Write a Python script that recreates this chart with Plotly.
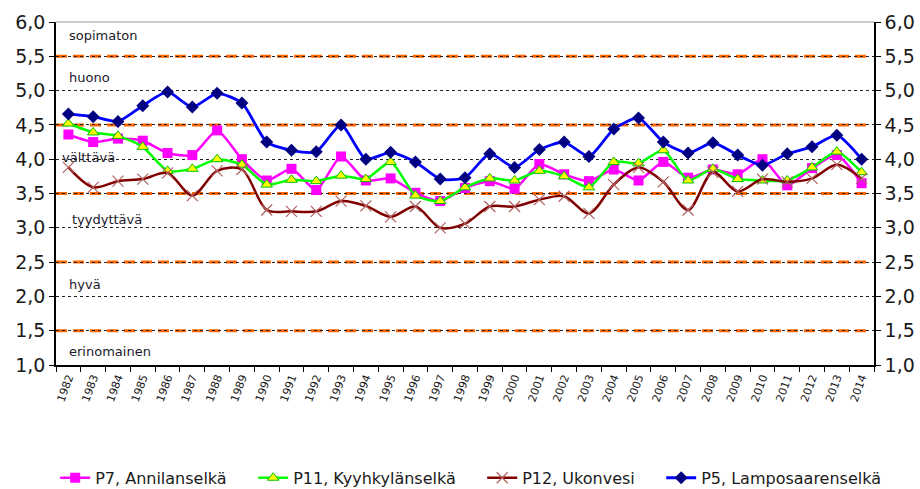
import plotly.graph_objects as go

years = [str(y) for y in range(1982, 2015)]

p7_annilanselka = [4.36, 4.25, 4.30, 4.27, 4.09, 4.06, 4.42, 4.00, 3.69, 3.86, 3.55, 4.04, 3.69, 3.72, 3.51, 3.39,
                   3.58, 3.68, 3.57, 3.93, 3.78, 3.68, 3.85, 3.69, 3.96, 3.73, 3.85, 3.78, 4.00, 3.62, 3.87, 4.06, 3.65]
p11_kyyhkylanselka = [4.52, 4.39, 4.34, 4.18, 3.83, 3.86, 4.00, 3.92, 3.63, 3.70, 3.68, 3.76, 3.71, 3.96, 3.47, 3.39,
                      3.59, 3.72, 3.69, 3.83, 3.75, 3.59, 3.96, 3.94, 4.13, 3.69, 3.86, 3.71, 3.69, 3.69, 3.88, 4.11, 3.81]
p12_ukonvesi = [3.88, 3.59, 3.68, 3.71, 3.80, 3.47, 3.83, 3.85, 3.26, 3.24, 3.24, 3.39, 3.32, 3.16, 3.31, 3.00,
                3.06, 3.31, 3.31, 3.41, 3.46, 3.21, 3.63, 3.88, 3.67, 3.26, 3.81, 3.53, 3.71, 3.67, 3.72, 3.92, 3.72]
p5_lamposaarenselka = [4.66, 4.62, 4.55, 4.78, 4.98, 4.76, 4.96, 4.82, 4.25, 4.13, 4.11, 4.50, 4.00, 4.10, 3.96, 3.71,
                       3.73, 4.08, 3.88, 4.14, 4.25, 4.04, 4.44, 4.60, 4.25, 4.09, 4.24, 4.06, 3.91, 4.08, 4.18, 4.35, 4.00]

class_labels = ["sopimaton", "huono", "välttävä", "tyydyttävä", "hyvä", "erinomainen"]
class_label_y = [5.81, 5.19, 4.02, 3.12, 2.18, 1.20]
class_label_x = [0.013, 0.013, 0.005, 0.017, 0.013, 0.013]
class_limits = [1.5, 2.5, 3.5, 4.5, 5.5]
y_ticks = [1.0, 1.5, 2.0, 2.5, 3.0, 3.5, 4.0, 4.5, 5.0, 5.5, 6.0]

FONT = "DejaVu Sans, Liberation Sans, Arial, sans-serif"
TXT = "#1A1A1A"

fig = go.Figure()

fig.add_trace(go.Scatter(
    x=years, y=p7_annilanselka, name="P7, Annilanselkä", mode="lines+markers", legendwidth=153,
    line=dict(color="#FF00FF", width=2.5, shape="spline", smoothing=0.6),
    marker=dict(symbol="square", size=10, color="#FF00FF")))
fig.add_trace(go.Scatter(
    x=years, y=p11_kyyhkylanselka, name="P11, Kyyhkylänselkä", mode="lines+markers", legendwidth=184,
    line=dict(color="#00FF00", width=2.5, shape="spline", smoothing=0.6),
    marker=dict(symbol="triangle-up", size=10, color="#FFFF00", line=dict(color="#00C000", width=1))))
fig.add_trace(go.Scatter(
    x=years, y=p12_ukonvesi, name="P12, Ukonvesi", mode="lines+markers", legendwidth=134,
    line=dict(color="#800000", width=2.5, shape="spline", smoothing=0.9),
    marker=dict(symbol="x-thin", size=11, color="#B06060", line=dict(color="#B06060", width=1.2))))
fig.add_trace(go.Scatter(
    x=years, y=p5_lamposaarenselka, name="P5, Lamposaarenselkä", mode="lines+markers", legendwidth=182,
    line=dict(color="#0000FF", width=2.8, shape="spline", smoothing=0.6),
    marker=dict(symbol="diamond", size=10, color="#000080")))

# invisible trace to activate right axis
fig.add_trace(go.Scatter(x=[years[0]], y=[None], yaxis="y2", showlegend=False, hoverinfo="skip"))

for lim in class_limits:
    fig.add_shape(type="line", xref="paper", yref="y", x0=0, x1=0.995, y0=lim, y1=lim,
                  line=dict(color="#FF6600", width=3, dash="11px,6px"), layer="between")

fig.add_shape(type="line", xref="paper", yref="paper", x0=0, x1=1, y0=1, y1=1,
              line=dict(color="#9A9A9A", width=1), layer="above")

for lab, yy, xx in zip(class_labels, class_label_y, class_label_x):
    fig.add_annotation(text=lab, x=xx, xref="paper", y=yy, yref="y", xanchor="left", yanchor="middle",
                       showarrow=False, font=dict(family=FONT, size=13, color="#1A1A2A"))

axis_common = dict(range=[1, 6], tickvals=y_ticks, tickformat=".1f", ticks="outside", ticklen=5,
                   tickcolor="black", linecolor="black", linewidth=1.5, showline=True, automargin=False,
                   tickfont=dict(family=FONT, size=19, color=TXT), zeroline=False)

fig.update_layout(
    width=920, height=489, autosize=False,
    margin=dict(l=56, r=46, t=22, b=124, autoexpand=False),
    paper_bgcolor="white", plot_bgcolor="white",
    separators=", ",
    font=dict(family=FONT, color=TXT),
    xaxis=dict(type="category", categoryorder="array", categoryarray=years, range=[-0.5, 32.5],
               tickangle=-70, tickfont=dict(family=FONT, size=11, color=TXT), automargin=False,
               ticks="outside", ticklen=5, tickson="boundaries", tickcolor="black",
               showline=True, linecolor="black", linewidth=1.5, showgrid=False),
    yaxis=dict(showgrid=True, gridcolor="#222222", griddash="dot", gridwidth=1, **axis_common),
    yaxis2=dict(overlaying="y", side="right", showgrid=False, **axis_common),
    legend=dict(orientation="h", x=-0.001, xanchor="left", y=-0.329, yanchor="middle",
                font=dict(family=FONT, size=16, color=TXT), itemwidth=30),
    showlegend=True,
)

fig.write_html("out.html", config={"responsive": False, "displayModeBar": False},
               post_script="document.body.style.margin='0';")
